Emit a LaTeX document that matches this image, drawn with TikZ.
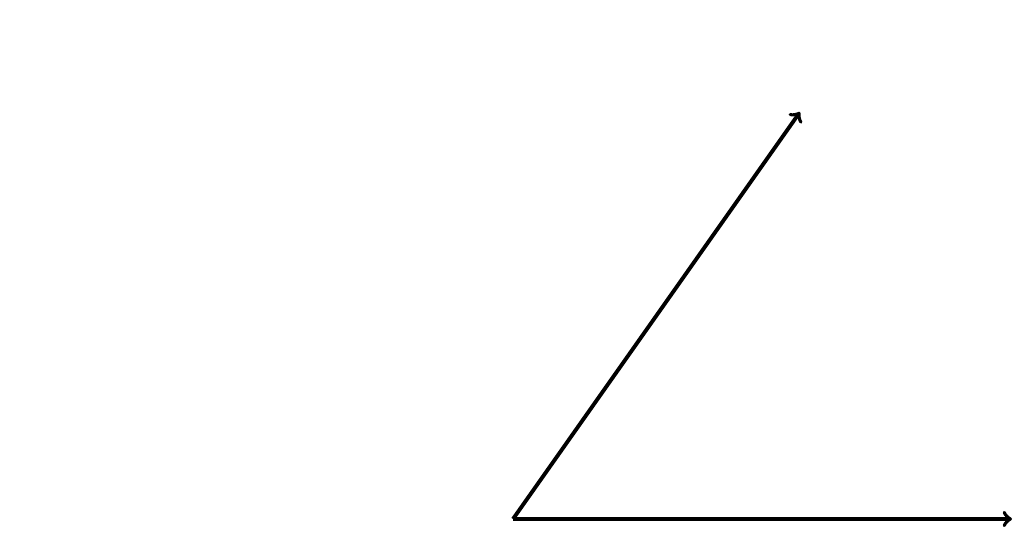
\documentclass[tikz,border=0pt]{standalone}
\begin{document}
\begin{tikzpicture}[vec/.style={->,line width=2.2pt}]
\useasboundingbox (0,0) rectangle (20.48,10.66);
\coordinate (O) at (10.26,0.28);
\coordinate (u) at (20.24,0.28);
\coordinate (v) at (16.0,8.42);
\draw[vec] (O) -- (u);
\draw[vec] (O) -- (v);
\end{tikzpicture}
\end{document}
